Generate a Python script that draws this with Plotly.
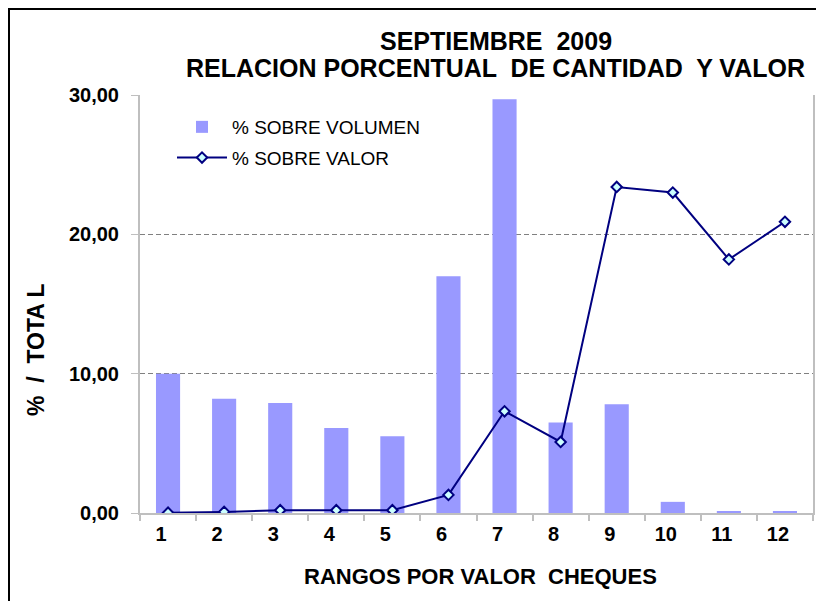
import plotly.graph_objects as go

categories = [str(i) for i in range(1, 13)]
volumen = [10.0, 8.2, 7.9, 6.1, 5.5, 17.0, 29.7, 6.5, 7.8, 0.8, 0.1, 0.1]
valor = [0.02, 0.08, 0.2, 0.2, 0.2, 1.3, 7.3, 5.1, 23.4, 23.0, 18.2, 20.9]
y_ticks = [0, 10, 20, 30]

# page body has an 8px default margin; figure is sized so the screenshot matches
OFF = 8
SW, SH = 824, 601                       # screenshot size
PX0, PX1, PY0, PY1 = 140, 813, 95, 513  # plot area in screenshot pixels
W, H = SW - OFF, SH - OFF
L, T = PX0 - OFF, PY0 - OFF
R, B = W - (PX1 - OFF), H - (PY1 - OFF)
PW, PH = PX1 - PX0, PY1 - PY0

def px(x):
    return (x - PX0) / PW

def py(y):
    return (PY1 - y) / PH

FONT = "Liberation Sans, Arial, sans-serif"

fig = go.Figure()
fig.add_trace(go.Bar(
    x=categories, y=volumen, name="% SOBRE VOLUMEN",
    marker=dict(color="#9999FF", line=dict(width=0)),
    width=0.43, legendgroup="a",
))
fig.add_trace(go.Scatter(
    x=categories, y=valor, name="% SOBRE VALOR", mode="lines+markers",
    line=dict(color="#000080", width=2),
    marker=dict(symbol="diamond", size=8, color="#CCFFFF",
                line=dict(color="#000080", width=2)),
    legendgroup="b",
))

fig.update_layout(
    width=W, height=H,
    margin=dict(l=L, r=R, t=T, b=B, autoexpand=False),
    paper_bgcolor="white", plot_bgcolor="white",
    separators=",.",
    font=dict(family=FONT, color="black"),
    showlegend=True,
    legend=dict(x=px(172), y=py(108), xanchor="left", yanchor="top",
                bgcolor="rgba(0,0,0,0)", font=dict(size=19, family=FONT),
                traceorder="grouped", tracegroupgap=3, itemwidth=50),
)
fig.update_xaxes(
    type="category", range=[-0.5, 11.5], autorange=False,
    tickson="boundaries", ticks="outside", ticklen=6,
    tickcolor="#BFBFBF", tickwidth=2, showline=True, linecolor="#BFBFBF",
    linewidth=2, showgrid=False,
    tickfont=dict(size=20, family=FONT, weight="bold", color="black"),
    ticklabelstandoff=2, ticklabelshift=-7,
)
fig.update_yaxes(
    range=[0, 30], autorange=False, tickvals=y_ticks, tickformat=".2f", ticks="outside",
    ticklen=7, tickcolor="#BFBFBF", tickwidth=1, showline=True,
    linecolor="#BFBFBF", linewidth=2, mirror=True,
    showgrid=True, gridcolor="#808080", griddash="5px,3px", gridwidth=1,
    zeroline=False,
    tickfont=dict(size=20, family=FONT, weight="bold", color="black"),
    ticklabelstandoff=8,
)

annotations = [
    dict(text="SEPTIEMBRE  2009", x=px(496), y=py(41), size=25),
    dict(text="RELACION PORCENTUAL  DE CANTIDAD  Y VALOR", x=px(495), y=py(68), size=25),
    dict(text="RANGOS POR VALOR  CHEQUES", x=px(480), y=py(576), size=22),
]
for a in annotations:
    fig.add_annotation(text=a["text"], x=a["x"], y=a["y"], xref="paper", yref="paper",
                       xanchor="center", yanchor="middle", showarrow=False,
                       font=dict(size=a["size"], family=FONT, weight="bold", color="black"))
fig.add_annotation(text="%  /  TOTA L", x=px(36), y=py(350), xref="paper", yref="paper",
                   xanchor="center", yanchor="middle", showarrow=False, textangle=-90,
                   font=dict(size=23, family=FONT, weight="bold", color="black"))

fig.add_shape(type="rect", xref="paper", yref="paper",
              x0=px(9), y0=py(700), x1=px(900), y1=py(9),
              line=dict(color="black", width=2), fillcolor="rgba(0,0,0,0)", layer="above")

fig.write_html("out.html")
